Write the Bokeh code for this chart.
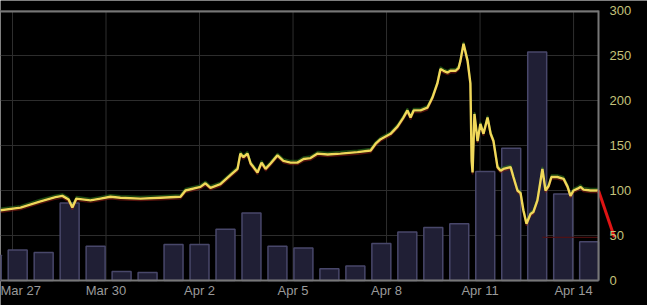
import pandas as pd
from bokeh.plotting import figure
from bokeh.models import (FixedTicker, DatetimeTickFormatter, Range1d, LinearAxis,
                          BoxAnnotation, ColumnDataSource)
from bokeh.embed import file_html
from bokeh.resources import INLINE

BASE = pd.Timestamp("2013-03-27")

# price line: time (days after Mar 27 00:00) and price
price_day = [-0.385, 0.257, 0.898, 1.38, 1.60, 1.80, 1.92, 2.05, 2.50, 2.82, 3.14, 3.46,
             4.11, 4.75, 5.39, 5.55, 6.03, 6.19, 6.35, 6.67, 6.99, 7.22, 7.31, 7.41,
             7.54, 7.64, 7.73, 7.86, 7.99, 8.12, 8.28, 8.50, 8.69, 8.92, 9.14, 9.34,
             9.56, 9.79, 10.11, 10.52, 11.07, 11.49, 11.65, 11.81, 12.13, 12.35, 12.54,
             12.67, 12.77, 12.87, 13.09, 13.31, 13.47, 13.63, 13.73, 13.83, 13.96,
             14.05, 14.21, 14.31, 14.37, 14.47, 14.60, 14.69, 14.73, 14.76, 14.82,
             14.92, 15.01, 15.11, 15.24, 15.34, 15.43, 15.56, 15.66, 15.75, 15.98,
             16.07, 16.20, 16.30, 16.39, 16.49, 16.62, 16.71, 16.84, 16.91, 17.00,
             17.10, 17.20, 17.29, 17.48, 17.68, 17.81, 17.90, 18.00, 18.13, 18.22,
             18.32, 18.54, 18.80]
price = [78, 81, 88, 92.6, 94, 90, 81, 91, 89, 91, 93, 92,
         91, 92, 93, 100, 104, 108, 103, 107, 117, 124, 141, 137,
         141, 130, 126, 120, 131, 124, 130, 139, 133, 131, 131, 135,
         136, 141, 140, 141, 142.6, 144.4, 152, 157, 163, 171, 181,
         189, 181, 189, 189, 192, 203, 219, 235, 233, 231,
         233, 233, 236, 244, 263, 244, 219, 133, 120, 185,
         155, 174, 163, 181, 163, 155, 126, 122, 124, 126,
         115, 100, 97, 78, 63, 74, 76, 89, 104, 124,
         100, 105, 115, 115, 113, 104, 94, 100, 102, 104,
         101, 100, 100]

# volume bars (20-hour bins)
vol_first_bin = "2013-03-26 08:00"
volume = [28, 34, 31, 86, 38, 10, 9, 40, 40, 57, 75, 38, 36, 13, 16, 41, 54, 59,
          63, 121, 147, 254, 96, 43]

tick_dates = ["2013-03-27", "2013-03-30", "2013-04-02", "2013-04-05",
              "2013-04-08", "2013-04-11", "2013-04-14"]
y_ticks = [0, 50, 100, 150, 200, 250, 300]
last_price = 48
last_day = 19.31

# time window: data area ends at END_DAY, canvas continues to VIEW_END_DAY
START_DAY, END_DAY, VIEW_END_DAY = -0.385, 18.80, 20.372
Y_MIN, Y_MAX = 0, 300
VIEW_Y = (-27.78, 311.11)   # room for the axis labels around the data area


def to_dt(days):
    return BASE + pd.to_timedelta(days, unit="D")


def to_ms(days):
    return to_dt(days).value / 1e6


times = [to_dt(d) for d in price_day]
bar_times = pd.date_range(vol_first_bin, periods=len(volume), freq="20h")
x0, x1 = to_ms(START_DAY), to_ms(END_DAY)
ticks_ms = [pd.Timestamp(d).value // 10**6 for d in tick_dates]

p = figure(width=647, height=305, x_axis_type="datetime", x_axis_location=None,
           y_axis_location=None,
           x_range=Range1d(x0, to_ms(VIEW_END_DAY)), y_range=Range1d(*VIEW_Y),
           output_backend="svg", toolbar_location=None,
           background_fill_color="black", border_fill_color="black",
           outline_line_color=None,
           min_border_left=0, min_border_right=0, min_border_top=0, min_border_bottom=0)

# grids limited to the data area
p.xgrid.visible = False
p.ygrid.visible = False
p.segment(x0=[x0] * len(y_ticks), x1=[x1] * len(y_ticks), y0=y_ticks, y1=y_ticks,
          line_color="#2e2e2e", line_width=1)
p.segment(x0=ticks_ms, x1=ticks_ms, y0=[Y_MIN] * len(ticks_ms), y1=[Y_MAX] * len(ticks_ms),
          line_color="#2e2e2e", line_width=1)

p.vbar(x=bar_times, top=volume, bottom=0, width=14.6 * 3600 * 1000,
       fill_color="#201f35", line_color="#48476a", line_width=1.5)

src = ColumnDataSource(dict(t=times, y=price,
                            hi=[v + 2.2 for v in price], lo=[v - 2.2 for v in price]))
p.line("t", "hi", source=src, line_color="#2f7a1c", line_width=1.5, line_alpha=0.6)
p.line("t", "lo", source=src, line_color="#8a1c14", line_width=1.5, line_alpha=0.6)
p.line("t", "y", source=src, line_color="#f0d85a", line_width=2.4)

# faint last-price level
p.segment(x0=[to_ms(17.0)], y0=[last_price], x1=[x1], y1=[last_price],
          line_color="#5a1010", line_width=1)

# red drop at the end (runs past the price axis)
p.line(x=[to_ms(price_day[-1]), to_ms(last_day)], y=[price[-1], last_price],
       line_color="#e01414", line_width=3)

# price axis, fixed at the right edge of the data area
yax = LinearAxis(fixed_location=x1, ticker=FixedTicker(ticks=y_ticks), bounds=(Y_MIN, Y_MAX))
yax.axis_line_color = "#777777"
yax.axis_line_width = 2
yax.major_tick_line_color = None
yax.minor_tick_line_color = None
yax.major_label_text_color = "#c4c27a"
yax.major_label_text_font = "Liberation Sans"
yax.major_label_text_font_size = "13px"
yax.major_label_standoff = 5
p.add_layout(yax, "right")

# time axis, fixed at price 0
fmt = "%b %-d"
from bokeh.models import DatetimeAxis
xa = DatetimeAxis(fixed_location=Y_MIN, ticker=FixedTicker(ticks=ticks_ms), bounds=(x0, x1))
xa.formatter = DatetimeTickFormatter(milliseconds=fmt, seconds=fmt, minsec=fmt,
                                     minutes=fmt, hourmin=fmt, hours=fmt, days=fmt,
                                     months=fmt, years=fmt, context=None)
xa.axis_line_color = "#777777"
xa.axis_line_width = 2
xa.major_tick_line_color = None
xa.minor_tick_line_color = None
xa.major_label_text_color = "#9a9a9a"
xa.major_label_text_font = "Liberation Sans"
xa.major_label_text_font_size = "13px"
xa.major_label_standoff = -3
p.add_layout(xa, "below")

# top border line
p.add_layout(BoxAnnotation(left=x0, right=x1, bottom=297.8, top=300,
                           fill_color="#777777", fill_alpha=1, line_color=None))

open("out.html", "w").write(file_html(p, INLINE))
